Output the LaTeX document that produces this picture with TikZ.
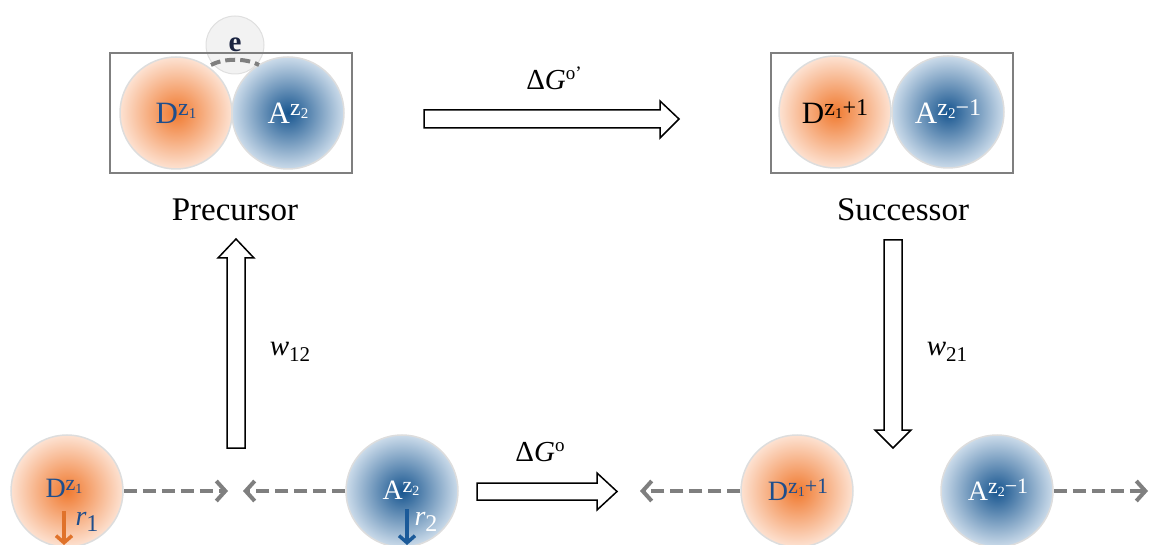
\documentclass[tikz,border=0pt]{standalone}
\usepackage{fontspec}
\setmainfont{Liberation Serif}
\usetikzlibrary{arrows.meta}
\definecolor{dblue}{HTML}{1F4E8C}
\definecolor{borange}{HTML}{F07A30}
\definecolor{lorange}{HTML}{FDE2D2}
\definecolor{bblue}{HTML}{17558F}
\definecolor{lblue}{HTML}{CBDBEA}
\definecolor{dgray}{HTML}{7F7F7F}
\definecolor{rimgray}{HTML}{DDDDDD}
\definecolor{arrorange}{HTML}{E0722A}
\definecolor{arrblue}{HTML}{1B5A99}
\definecolor{enavy}{HTML}{1A2340}
\newcommand{\rs}[3]{\raisebox{#1}{\fontsize{#2}{#2}\selectfont #3}}
\newcommand{\zsup}[2]{\rs{8pt}{24}{z\rs{-3pt}{15}{#1}#2}}
\newcommand{\zsupb}[2]{\rs{7pt}{22}{z\rs{-3pt}{14}{#1}#2}}
\tikzset{
  ball/.style={circle, minimum size=112pt, inner sep=0pt, draw=rimgray, line width=1.5pt},
  dball/.style={ball, inner color=borange, outer color=lorange},
  aball/.style={ball, inner color=bblue, outer color=lblue},
  frame/.style={draw=dgray, line width=2pt},
  balltext/.style={font=\fontsize{31}{34}\selectfont, inner sep=0pt},
  smalltext/.style={font=\fontsize{28}{30}\selectfont, inner sep=0pt},
  caption/.style={font=\fontsize{33}{36}\selectfont, inner sep=0pt},
  lab/.style={font=\fontsize{29}{32}\selectfont, inner sep=0pt},
  blockarrow/.style={draw=black, fill=white, line width=1.5pt, line join=miter},
  dasharrow/.style={draw=dgray, line width=4pt, dash pattern=on 13pt off 6pt,
    -{Straight Barb[length=9pt,width=20pt]}},
  rarrow/.style={line width=3.5pt, -{Straight Barb[length=7pt,width=16pt]}},
}
\begin{document}
\begin{tikzpicture}[x=1pt,y=-1pt]
\useasboundingbox (0,0) rectangle (1149,545);

% ---------- top: precursor ----------
\node[circle, minimum size=58pt, inner sep=0pt, fill=gray!10, draw=gray!25, line width=1pt,
      text=enavy, font=\fontsize{29}{30}\selectfont\bfseries] (e) at (235,45) {e};
\draw[frame] (110,53) rectangle (352,173);
\node[dball] (pD) at (176,113) {};
\node[aball] (pA) at (288,113) {};
\node[balltext, text=dblue] (pDt) at (pD) {D\zsup{1}{}};
\node[balltext, text=white] (pAt) at (pA) {A\zsup{2}{}};
\draw[dgray, line width=4pt, dash pattern=on 10pt off 5pt]
  (211,65) .. controls (224,58) and (246,58) .. (259,65);
\node[caption] (prec) at (235,210) {Precursor};

% ---------- top: successor ----------
\draw[frame] (771,53) rectangle (1013,173);
\node[dball] (sD) at (835,112) {};
\node[aball] (sA) at (948,112) {};
\node[balltext, text=black] (sDt) at (sD) {D\zsup{1}{+1}};
\node[balltext, text=white] (sAt) at (sA) {A\zsup{2}{−1}};
\node[caption] (succ) at (903,210) {Successor};

% ---------- block arrows ----------
\draw[blockarrow] (424,110) -- (660,110) -- (660,101) -- (679,119) -- (660,138) -- (660,128) -- (424,128) -- cycle;
\node[lab] (dG1) at (554,78) {Δ\textit{G}\rs{10pt}{19}{o’}};

\draw[blockarrow] (477,483) -- (597,483) -- (597,473) -- (617,491.5) -- (597,510) -- (597,500) -- (477,500) -- cycle;
\node[lab] (dG2) at (540,452) {Δ\textit{G}\rs{10pt}{19}{o}};

\draw[blockarrow] (227,448) -- (227,258) -- (218,258) -- (236,239) -- (254,258) -- (245,258) -- (245,448) -- cycle;
\node[lab] (w12) at (290,352) {\textit{w}\rs{-6pt}{21}{12}};

\draw[blockarrow] (884,240) -- (884,430) -- (875,430) -- (893,448) -- (911,430) -- (902,430) -- (902,240) -- cycle;
\node[lab] (w21) at (947,352) {\textit{w}\rs{-6pt}{21}{21}};

% ---------- bottom row ----------
\node[dball] (bD1) at (67,491) {};
\node[aball] (bA1) at (402,491) {};
\node[dball] (bD2) at (797,491) {};
\node[aball] (bA2) at (997,491) {};

\node[smalltext, text=dblue] (bD1t) at (64,488) {D\zsupb{1}{}};
\node[smalltext, text=white] (bA1t) at (401,490) {A\zsupb{2}{}};
\node[smalltext, text=dblue] (bD2t) at (798,490) {D\zsupb{1}{+1}};
\node[smalltext, text=white] (bA2t) at (998,490) {A\zsupb{2}{−1}};

\node[smalltext, text=dblue] (r1) at (87,522) {\textit{r}\rs{-6pt}{24}{1}};
\node[smalltext, text=white] (r2) at (426,522) {\textit{r}\rs{-6pt}{24}{2}};
\coordinate (r1a) at (64,511);
\coordinate (r1b) at (64,545);
\coordinate (r2a) at (407,509);
\coordinate (r2b) at (407,545);
\draw[rarrow, arrorange] (r1a) -- (r1b);
\draw[rarrow, arrblue] (r2a) -- (r2b);

\coordinate (m1) at (228,491);
\coordinate (m2) at (243,491);
\coordinate (m3) at (640,491);
\coordinate (m4) at (1148,491);
\draw[dasharrow] (bD1) -- (m1);
\draw[dasharrow] (bA1) -- (m2);
\draw[dasharrow] (bD2) -- (m3);
\draw[dasharrow] (bA2) -- (m4);
\end{tikzpicture}
\end{document}
